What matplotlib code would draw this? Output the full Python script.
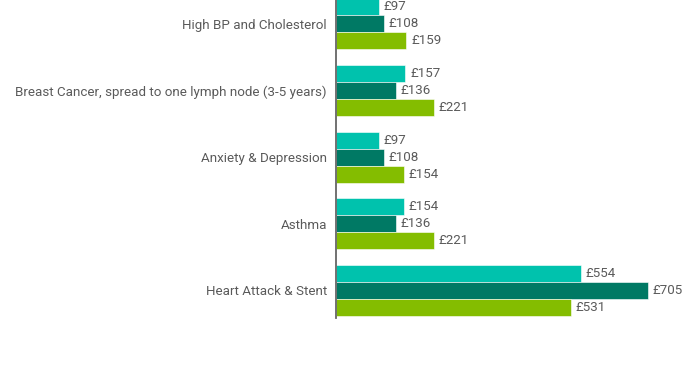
import matplotlib
matplotlib.use("Agg")
import matplotlib.pyplot as plt
import numpy as np

categories = ["High BP and Cholesterol",
              "Breast Cancer, spread to one lymph node (3-5 years)",
              "Anxiety & Depression",
              "Asthma",
              "Heart Attack & Stent"]
series1 = [97, 157, 97, 154, 554]
series2 = [108, 136, 108, 136, 705]
series3 = [159, 221, 154, 221, 531]
colors = ["#00C2AD", "#007964", "#84BD00"]

plt.rcParams['font.family'] = ['Roboto', 'DejaVu Sans']
fig = plt.figure(figsize=(7, 3.75), dpi=100)
ax = fig.add_axes([336/700, (375-318)/375, 354/700, 318/375])

y = np.arange(len(categories))
h = 0.255
for k, (vals, c) in enumerate(zip([series1, series2, series3], colors)):
    pos = y + (k - 1) * h
    ax.barh(pos, vals, height=h, color=c, edgecolor="white", linewidth=0.4)
    for p, v in zip(pos, vals):
        ax.annotate(f"£{v}", xy=(v, p), xytext=(3.3, 0), textcoords="offset points",
                    va="center", ha="left", fontsize=9.6, color="#5a5a5a")

ax.set_ylim(4.413, -0.357)
ax.set_xlim(0, 800)
ax.set_yticks(y)
ax.set_yticklabels(categories, fontsize=9.6, color="#5a5a5a")
ax.tick_params(axis="y", length=0, pad=6.5)
ax.set_xticks([])
for s in ["top", "right", "bottom"]:
    ax.spines[s].set_visible(False)
ax.spines["left"].set_color("#666666")
ax.spines["left"].set_linewidth(1.3)

fig.savefig("out.png", dpi=100)
